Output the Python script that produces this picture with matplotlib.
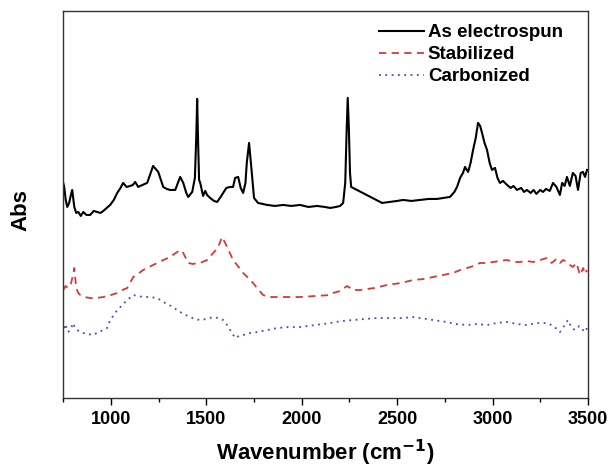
import matplotlib
matplotlib.use("Agg")
import matplotlib.pyplot as plt
from matplotlib.ticker import MultipleLocator

plt.rcParams['font.family'] = ['Liberation Sans', 'DejaVu Sans']
plt.rcParams['font.weight'] = 'bold'

# As electrospun
wn_as = [750, 755, 763, 771, 781, 790, 797, 808, 818, 829,
         842, 855, 872, 891, 910, 928, 945, 960, 978, 996,
         1015, 1033, 1050, 1064, 1082, 1101, 1115, 1127, 1143, 1165,
         1190, 1221, 1248, 1274, 1292, 1310, 1337, 1363, 1379, 1395,
         1405, 1426, 1440, 1447, 1452, 1457, 1462, 1468, 1483, 1494,
         1504, 1520, 1540, 1557, 1575, 1588, 1605, 1625, 1640, 1651,
         1667, 1680, 1693, 1705, 1712, 1724, 1736, 1745, 1750, 1771,
         1795, 1819, 1860, 1902, 1945, 1991, 2035, 2080, 2120, 2149,
         2180, 2201, 2217, 2228, 2235, 2241, 2247, 2253, 2259, 2421,
         2460, 2500, 2531, 2575, 2620, 2665, 2709, 2745, 2777, 2800,
         2814, 2830, 2845, 2856, 2865, 2872, 2885, 2898, 2912, 2924,
         2935, 2945, 2958, 2971, 2985, 2997, 3013, 3026, 3039, 3055,
         3076, 3095, 3110, 3128, 3150, 3165, 3180, 3200, 3215, 3230,
         3249, 3265, 3280, 3300, 3317, 3335, 3353, 3365, 3378, 3390,
         3405, 3421, 3435, 3448, 3462, 3474, 3485, 3495]
abs_as = [2.15, 2.11, 1.98, 1.91, 1.95, 2.03, 2.08, 1.91, 1.85, 1.86,
          1.82, 1.86, 1.83, 1.83, 1.87, 1.86, 1.85, 1.87, 1.90, 1.93,
          1.98, 2.05, 2.10, 2.15, 2.11, 2.12, 2.13, 2.16, 2.11, 2.13,
          2.15, 2.32, 2.26, 2.11, 2.09, 2.08, 2.08, 2.21, 2.15, 2.05,
          2.01, 2.06, 2.20, 2.60, 2.99, 2.55, 2.18, 2.15, 2.02, 2.07,
          2.03, 2.00, 1.97, 1.96, 2.01, 2.05, 2.10, 2.11, 2.11, 2.20,
          2.21, 2.10, 2.05, 2.15, 2.35, 2.55, 2.30, 2.10, 2.00, 1.95,
          1.94, 1.93, 1.92, 1.93, 1.92, 1.93, 1.91, 1.92, 1.91, 1.90,
          1.91, 1.92, 1.95, 2.15, 2.65, 3.00, 2.70, 2.25, 2.11, 1.95,
          1.96, 1.97, 1.98, 1.97, 1.98, 1.99, 1.99, 2.00, 2.01, 2.06,
          2.11, 2.20, 2.25, 2.31, 2.28, 2.26, 2.35, 2.48, 2.60, 2.75,
          2.72, 2.65, 2.55, 2.48, 2.35, 2.28, 2.30, 2.20, 2.15, 2.17,
          2.13, 2.10, 2.12, 2.08, 2.10, 2.06, 2.08, 2.05, 2.08, 2.04,
          2.08, 2.06, 2.09, 2.07, 2.15, 2.11, 2.03, 2.15, 2.12, 2.21,
          2.12, 2.25, 2.22, 2.08, 2.25, 2.26, 2.21, 2.28]

# Stabilized
wn_st = [750, 762, 776, 790, 800, 808, 818, 829, 839, 860,
         891, 925, 960, 1000, 1033, 1060, 1085, 1117, 1140, 1169,
         1200, 1242, 1275, 1310, 1347, 1365, 1379, 1405, 1430, 1452,
         1480, 1504, 1536, 1560, 1583, 1609, 1640, 1665, 1693, 1720,
         1745, 1770, 1798, 1830, 1871, 1930, 1991, 2070, 2149, 2164,
         2200, 2238, 2270, 2306, 2380, 2447, 2520, 2583, 2640, 2688,
         2740, 2793, 2830, 2866, 2900, 2934, 2970, 3002, 3040, 3076,
         3110, 3144, 3180, 3212, 3250, 3285, 3310, 3335, 3353, 3370,
         3390, 3405, 3421, 3440, 3458, 3475, 3485, 3495]
abs_st = [1.08, 1.12, 1.10, 1.14, 1.22, 1.30, 1.10, 1.05, 1.03, 1.01,
          1.00, 1.00, 1.01, 1.03, 1.05, 1.08, 1.10, 1.21, 1.24, 1.28,
          1.31, 1.35, 1.38, 1.41, 1.46, 1.48, 1.45, 1.35, 1.34, 1.35,
          1.36, 1.38, 1.45, 1.50, 1.61, 1.51, 1.38, 1.32, 1.25, 1.20,
          1.15, 1.09, 1.03, 1.01, 1.01, 1.01, 1.01, 1.02, 1.03, 1.05,
          1.07, 1.12, 1.08, 1.08, 1.10, 1.13, 1.15, 1.18, 1.19, 1.21,
          1.23, 1.25, 1.28, 1.30, 1.32, 1.35, 1.35, 1.36, 1.37, 1.38,
          1.36, 1.36, 1.37, 1.36, 1.38, 1.40, 1.35, 1.39, 1.35, 1.38,
          1.36, 1.33, 1.31, 1.35, 1.23, 1.30, 1.24, 1.28]

# Carbonized
wn_ca = [755, 760, 775, 787, 802, 812, 823, 840, 855, 880,
         907, 935, 960, 980, 996, 1015, 1033, 1060, 1085, 1117,
         1140, 1169, 1205, 1242, 1284, 1315, 1347, 1380, 1415, 1440,
         1468, 1500, 1536, 1560, 1588, 1605, 1625, 1651, 1670, 1693,
         1730, 1766, 1820, 1871, 1930, 1991, 2070, 2149, 2210, 2269,
         2330, 2395, 2460, 2531, 2580, 2620, 2690, 2761, 2810, 2866,
         2920, 2971, 3020, 3076, 3130, 3180, 3230, 3285, 3320, 3353,
         3375, 3395, 3415, 3432, 3455, 3474, 3485, 3495]
abs_ca = [0.70, 0.74, 0.66, 0.68, 0.75, 0.70, 0.68, 0.66, 0.65, 0.64,
          0.63, 0.66, 0.68, 0.70, 0.78, 0.83, 0.88, 0.93, 0.98, 1.03,
          1.02, 1.01, 1.01, 1.00, 0.95, 0.92, 0.88, 0.84, 0.81, 0.79,
          0.78, 0.79, 0.81, 0.80, 0.78, 0.74, 0.68, 0.60, 0.62, 0.63,
          0.65, 0.66, 0.68, 0.70, 0.71, 0.71, 0.73, 0.75, 0.77, 0.78,
          0.79, 0.80, 0.80, 0.80, 0.81, 0.80, 0.78, 0.76, 0.74, 0.73,
          0.74, 0.73, 0.75, 0.76, 0.74, 0.73, 0.75, 0.75, 0.72, 0.66,
          0.72, 0.78, 0.70, 0.68, 0.72, 0.68, 0.66, 0.70]

fig = plt.figure(figsize=(6.08, 4.70), dpi=100)
ax = fig.add_axes([0.104, 0.153, 0.863, 0.824])

ax.plot(wn_as, abs_as, color='black', lw=1.5, label='As electrospun')
ax.plot(wn_st, abs_st, color='#d23a3a', lw=1.3, ls=(0, (4, 3)), label='Stabilized')
ax.plot(wn_ca, abs_ca, color='#4a4aa8', lw=1.3, ls=(0, (1, 2.5)), label='Carbonized')

ax.set_xlim(750, 3500)
ax.set_ylim(0, 3.87)
ax.xaxis.set_major_locator(MultipleLocator(500))
ax.xaxis.set_minor_locator(MultipleLocator(250))
ax.tick_params(axis='x', which='major', direction='out', length=5, width=1, labelsize=13, pad=4)
ax.tick_params(axis='x', which='minor', direction='out', length=3, width=1)
ax.set_yticks([])
for lab in ax.get_xticklabels():
    lab.set_fontweight('bold')
for s in ax.spines.values():
    s.set_linewidth(1.0)
    s.set_color('#333333')

ax.set_xlabel('Wavenumber (cm$^{\\mathbf{-1}}$)', fontsize=16, fontweight='bold', labelpad=7)
ax.set_ylabel('Abs', fontsize=16, fontweight='bold')
ax.yaxis.set_label_coords(-0.061, 0.486)

ax.legend(loc='upper right', bbox_to_anchor=(0.952, 0.966), frameon=False,
          handlelength=2.4, handletextpad=0.2, labelspacing=0.27,
          borderaxespad=0.0, borderpad=0.0,
          prop={'weight': 'bold', 'size': 13.5})

fig.savefig('out.png', dpi=100)
